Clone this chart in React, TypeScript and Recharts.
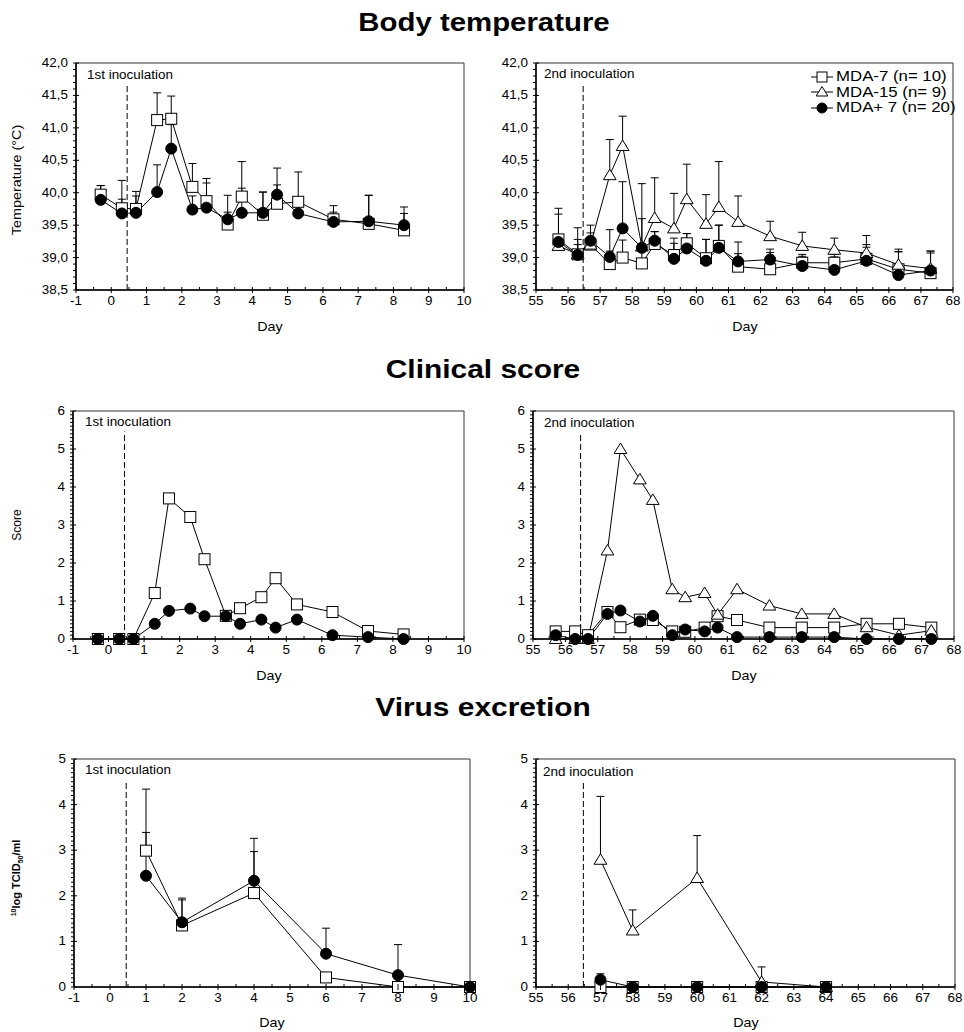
import React from 'react';
import { LineChart, Line, XAxis, YAxis, ErrorBar, ReferenceLine, ReferenceArea, Legend } from 'recharts';

const FONT = "'Liberation Sans', Arial, Helvetica, sans-serif";

// ---------- series names ----------
const NAME_MDA7 = 'MDA-7 (n= 10)';
const NAME_MDA15 = 'MDA-15 (n= 9)';
const NAME_MDAP7 = 'MDA+ 7 (n= 20)';
const LEGEND_ORDER = [NAME_MDA7, NAME_MDA15, NAME_MDAP7];

// ---------- Body temperature, 1st inoculation ----------
const tempDays1 = [-0.3, 0.3, 0.7, 1.3, 1.7, 2.3, 2.7, 3.3, 3.7, 4.3, 4.7, 5.3, 6.3, 7.3, 8.3];
const temp1Mda7 = [39.97, 39.76, 39.75, 41.12, 41.14, 40.09, 39.87, 39.51, 39.94, 39.66, 39.83, 39.86, 39.59, 39.52, 39.42];
const temp1Mda7Sd = [0.14, 0.43, 0.27, 0.42, 0.35, 0.36, 0.35, 0.19, 0.54, 0.35, 0.29, 0.46, 0.21, 0.44, 0.36];
const temp1MdaP7 = [39.89, 39.68, 39.69, 40.01, 40.68, 39.74, 39.77, 39.59, 39.69, 39.69, 39.97, 39.68, 39.55, 39.56, 39.5];
const temp1MdaP7Sd = [0.22, 0.22, 0.26, 0.42, 0.37, 0.21, 0.38, 0.37, 0.38, 0.32, 0.41, 0.22, 0.15, 0.4, 0.18];

// ---------- Body temperature, 2nd inoculation ----------
const tempDays2 = [55.7, 56.3, 56.7, 57.3, 57.7, 58.3, 58.7, 59.3, 59.7, 60.3, 60.7, 61.3, 62.3, 63.3, 64.3, 65.3, 66.3, 67.3];
const temp2Mda7 = [39.28, 39.05, 39.2, 38.9, 39.0, 38.91, 39.21, 39.04, 39.22, 38.99, 39.18, 38.86, 38.82, 38.92, 38.92, 38.98, 38.82, 38.76];
const temp2Mda7Sd = [0.48, 0.15, 0.1, 0.2, 0.27, 0.3, 0.19, 0.18, 0.15, 0.29, 0.32, 0.2, 0.26, 0.13, 0.13, 0.18, 0.27, 0.31];
const temp2Mda15 = [39.18, 39.05, 39.2, 40.27, 40.72, 39.17, 39.61, 39.45, 39.9, 39.52, 39.78, 39.55, 39.33, 39.18, 39.12, 39.07, 38.89, 38.83];
const temp2Mda15Sd = [0.17, 0.41, 0.3, 0.55, 0.46, 0.97, 0.62, 0.54, 0.54, 0.45, 0.7, 0.4, 0.23, 0.21, 0.18, 0.27, 0.24, 0.27];
const temp2MdaP7 = [39.24, 39.04, 39.26, 39.01, 39.45, 39.15, 39.26, 38.98, 39.14, 38.95, 39.15, 38.94, 38.97, 38.87, 38.81, 38.95, 38.73, 38.8];
const temp2MdaP7Sd = [0.43, 0.24, 0.12, 0.42, 0.72, 0.45, 0.14, 0.32, 0.23, 0.33, 0.35, 0.3, 0.16, 0.15, 0.2, 0.25, 0.36, 0.3];

// ---------- Clinical score ----------
const clin1Mda7 = [0, 0, 0, 1.21, 3.7, 3.21, 2.1, 0.61, 0.81, 1.1, 1.6, 0.91, 0.71, 0.21, 0.12];
const clin1MdaP7 = [0, 0, 0, 0.4, 0.74, 0.8, 0.6, 0.6, 0.4, 0.51, 0.3, 0.51, 0.1, 0.05, 0];
const clin2Mda7 = [0.2, 0.2, 0.1, 0.71, 0.31, 0.51, 0.5, 0.2, 0.19, 0.3, 0.6, 0.5, 0.3, 0.3, 0.3, 0.4, 0.4, 0.3];
const clin2Mda15 = [0, 0, 0, 2.33, 5.0, 4.2, 3.66, 1.31, 1.1, 1.21, 0.64, 1.31, 0.88, 0.66, 0.66, 0.31, 0.1, 0.22];
const clin2MdaP7 = [0.1, 0, 0, 0.66, 0.75, 0.46, 0.61, 0.1, 0.25, 0.2, 0.3, 0.05, 0.05, 0.05, 0.05, 0, 0, 0];

// ---------- Virus excretion ----------
const virDays1 = [1, 2, 4, 6, 8, 10];
const vir1Mda7 = [2.99, 1.35, 2.06, 0.21, 0, 0];
const vir1Mda7Sd = [1.35, 0.6, 0.91, 0, 0, 0];
const vir1MdaP7 = [2.44, 1.42, 2.33, 0.73, 0.26, 0];
const vir1MdaP7Sd = [0.95, 0.49, 0.93, 0.56, 0.67, 0];
const virDays2 = [57, 58, 60, 62, 64];
const vir2Mda7 = [0, 0, 0, 0, 0];
const vir2Mda15 = [2.79, 1.24, 2.39, 0.11, 0];
const vir2Mda15Sd = [1.39, 0.45, 0.93, 0.33, 0];
const vir2MdaP7 = [0.16, 0, 0, 0, 0];
const vir2MdaP7Sd = [0.13, 0, 0, 0, 0];

// ---------- axes ----------
const xDomain1: [number, number] = [-1, 10];
const xDomain2: [number, number] = [55, 68];
const tempDomain: [number, number] = [38.5, 42];
const scoreDomain: [number, number] = [0, 6];
const virusDomain: [number, number] = [0, 5];
const inoc1Day = 0.45;
const inoc2Day = 56.47;

type Shape = 'square' | 'triangle' | 'circle';
const SHAPE_OF: Record<string, Shape> = {
  [NAME_MDA7]: 'square',
  [NAME_MDA15]: 'triangle',
  [NAME_MDAP7]: 'circle',
};

function steps(min: number, max: number, step: number): number[] {
  const n = Math.round((max - min) / step);
  const out: number[] = [];
  for (let i = 0; i <= n; i++) out.push(Math.round((min + i * step) * 1000) / 1000);
  return out;
}

function toPoints(days: number[], vals: number[], sd?: number[]) {
  return days.map((x, i) => ({ x, y: vals[i], e: sd ? [0, sd[i]] : undefined }));
}

function MarkerShape({ cx, cy, shape, size }: { cx: number; cy: number; shape: Shape; size: number }) {
  if (cx == null || cy == null || isNaN(cx) || isNaN(cy)) return null;
  const h = size / 2;
  if (shape === 'square') {
    return <rect x={cx - h} y={cy - h} width={size} height={size} fill="#fff" stroke="#000" strokeWidth={1} />;
  }
  if (shape === 'triangle') {
    const w = size * 0.58;
    return (
      <polygon
        points={`${cx},${cy - h - 0.5} ${cx - w},${cy + h - 1} ${cx + w},${cy + h - 1}`}
        fill="#fff"
        stroke="#000"
        strokeWidth={1}
      />
    );
  }
  return <circle cx={cx} cy={cy} r={h} fill="#000" stroke="#000" strokeWidth={1} />;
}

const TICK_SCALE = 1.12;

function makeXTick() {
  return (props: any) => {
    const { x, y, payload } = props;
    const v = payload.value;
    const major = Math.abs(v - Math.round(v)) < 1e-6;
    return (
      <g>
        {major ? (
          <line x1={x} x2={x} y1={y - 3} y2={y + 3} stroke="#000" strokeWidth={1} />
        ) : (
          <line x1={x} x2={x} y1={y} y2={y - 3} stroke="#000" strokeWidth={1} />
        )}
        {major && (
          <text
            transform={`translate(${x},${y + 15}) scale(${TICK_SCALE},1)`}
            textAnchor="middle"
            fontSize={12}
            fontFamily={FONT}
            fill="#000"
          >
            {Math.round(v)}
          </text>
        )}
      </g>
    );
  };
}

function makeYTick(majorStep: number, fmt: (v: number) => string) {
  return (props: any) => {
    const { x, y, payload } = props;
    const v = payload.value;
    const r = v / majorStep;
    const major = Math.abs(r - Math.round(r)) < 1e-6;
    return (
      <g>
        {major ? (
          <line x1={x - 3} x2={x + 3} y1={y} y2={y} stroke="#000" strokeWidth={1} />
        ) : (
          <line x1={x - 3} x2={x} y1={y} y2={y} stroke="#000" strokeWidth={1} />
        )}
        {major && (
          <text
            transform={`translate(${x - 8},${y + 4}) scale(${TICK_SCALE},1)`}
            textAnchor="end"
            fontSize={12}
            fontFamily={FONT}
            fill="#000"
          >
            {fmt(v)}
          </text>
        )}
      </g>
    );
  };
}

const renderLegend = (props: any) => {
  const payload = (props.payload || []).slice();
  payload.sort((a: any, b: any) => LEGEND_ORDER.indexOf(a.value) - LEGEND_ORDER.indexOf(b.value));
  return (
    <div style={{ fontFamily: FONT, fontSize: 14, color: '#000' }}>
      {payload.map((entry: any) => (
        <div
          key={entry.value}
          style={{ display: 'flex', alignItems: 'center', height: 15.5, whiteSpace: 'nowrap' }}
        >
          <svg width={24} height={14} style={{ display: 'block' }}>
            <line x1={1} x2={23} y1={7} y2={7} stroke="#000" strokeWidth={1} />
            <MarkerShape cx={12} cy={7} shape={SHAPE_OF[entry.value] || 'circle'} size={10} />
          </svg>
          <span
            style={{
              display: 'inline-block',
              marginLeft: 2,
              transform: 'scaleX(1.2)',
              transformOrigin: 'left center',
              lineHeight: '15.5px',
            }}
          >
            {entry.value}
          </span>
        </div>
      ))}
    </div>
  );
};

type Rect = { l: number; r: number; t: number; b: number };
type SeriesDef = { name: string; data: any[]; err: boolean };

const ML = 60;
const YW = 40;
const MT = 12;
const MR = 12;
const MB = 50;
const XH = 20;

function Panel(props: {
  rect: Rect;
  xDomain: [number, number];
  yDomain: [number, number];
  yMajor: number;
  yMinor: number;
  fmt: (v: number) => string;
  series: SeriesDef[];
  inocDay: number;
  inocTop: number;
  legend?: boolean;
}) {
  const { rect, xDomain, yDomain, yMajor, yMinor, fmt, series, inocDay, inocTop, legend } = props;
  const w = rect.r - rect.l + ML + MR;
  const h = rect.b - rect.t + MT + MB;
  const left = rect.l - ML;
  const top = rect.t - MT;
  const xTicks = steps(xDomain[0], xDomain[1], 0.5);
  const yTicks = steps(yDomain[0], yDomain[1], yMinor);
  return (
    <div style={{ position: 'absolute', left, top, width: w, height: h }}>
      <LineChart
        width={w}
        height={h}
        margin={{ top: MT, right: MR, left: ML - YW, bottom: MB - XH }}
      >
        <XAxis
          type="number"
          dataKey="x"
          domain={xDomain}
          ticks={xTicks}
          interval={0}
          tickLine={false}
          tickSize={0}
          tickMargin={0}
          height={XH}
          axisLine={{ stroke: '#000', strokeWidth: 1.5 }}
          tick={makeXTick()}
        />
        <YAxis
          type="number"
          domain={yDomain}
          ticks={yTicks}
          interval={0}
          tickLine={false}
          tickSize={0}
          tickMargin={0}
          width={YW}
          axisLine={{ stroke: '#000', strokeWidth: 1.5 }}
          tick={makeYTick(yMajor, fmt)}
        />
        <ReferenceArea
          x1={xDomain[0]}
          x2={xDomain[1]}
          y1={yDomain[0]}
          y2={yDomain[1]}
          fill="none"
          fillOpacity={0}
          stroke="#333"
          strokeWidth={1}
          ifOverflow="visible"
        />
        <ReferenceLine
          segment={[
            { x: inocDay, y: yDomain[0] },
            { x: inocDay, y: inocTop },
          ]}
          stroke="#000"
          strokeWidth={1}
          strokeDasharray="6 3"
          ifOverflow="visible"
        />
        {series.map((s) => (
          <Line
            key={s.name}
            name={s.name}
            data={s.data}
            dataKey="y"
            type="linear"
            stroke="#000"
            strokeWidth={1}
            isAnimationActive={false}
            activeDot={false}
            legendType="line"
            dot={(p: any) => (
              <MarkerShape
                key={`${s.name}-${p.index}`}
                cx={p.cx}
                cy={p.cy}
                shape={SHAPE_OF[s.name]}
                size={11}
              />
            )}
          >
            {s.err && (
              <ErrorBar dataKey="e" direction="y" width={4} stroke="#000" strokeWidth={1} isAnimationActive={false} />
            )}
          </Line>
        ))}
        {legend && (
          <Legend
            layout="vertical"
            align="center"
            verticalAlign="middle"
            content={renderLegend}
            wrapperStyle={{ left: 810 - left, top: 69 - top, width: 150, height: 50 }}
          />
        )}
      </LineChart>
    </div>
  );
}

function Txt(props: {
  x: number;
  baseline: number;
  size: number;
  bold?: boolean;
  center?: boolean;
  scale?: number;
  children: React.ReactNode;
}) {
  const { x, baseline, size, bold, center, scale = 1.12, children } = props;
  return (
    <div
      style={{
        position: 'absolute',
        left: x,
        top: baseline - 0.8465 * size,
        fontSize: size,
        lineHeight: `${size}px`,
        fontWeight: bold ? 'bold' : 'normal',
        fontFamily: FONT,
        whiteSpace: 'nowrap',
        color: '#000',
        transform: center ? `translateX(-50%) scaleX(${scale})` : `scaleX(${scale})`,
        transformOrigin: center ? 'center center' : 'left center',
      }}
    >
      {children}
    </div>
  );
}

function VTxt(props: { cx: number; cy: number; size: number; bold?: boolean; scale?: number; children: React.ReactNode }) {
  const { cx, cy, size, bold, scale = 1, children } = props;
  return (
    <div
      style={{
        position: 'absolute',
        left: cx,
        top: cy,
        fontSize: size,
        lineHeight: `${size + 2}px`,
        fontWeight: bold ? 'bold' : 'normal',
        fontFamily: FONT,
        whiteSpace: 'nowrap',
        color: '#000',
        transform: `translate(-50%, -50%) rotate(-90deg) scaleX(${scale})`,
      }}
    >
      {children}
    </div>
  );
}

const fmtComma = (v: number) => v.toFixed(1).replace('.', ',');
const fmtInt = (v: number) => String(Math.round(v));

const rTL: Rect = { l: 76, r: 464, t: 63, b: 290 };
const rTR: Rect = { l: 536, r: 953, t: 63, b: 290 };
const rCL: Rect = { l: 73, r: 464, t: 411, b: 639 };
const rCR: Rect = { l: 533, r: 954, t: 411, b: 639 };
const rVL: Rect = { l: 74, r: 470, t: 759, b: 987 };
const rVR: Rect = { l: 536, r: 955, t: 759, b: 987 };

export default function App() {
  const mid = (r: Rect) => (r.l + r.r) / 2;
  return (
    <div style={{ position: 'absolute', left: 0, top: 0, width: 964, height: 1032, background: '#fff', overflow: 'hidden' }}>
      {/* Titles */}
      <Txt x={484} baseline={30.7} size={26} bold center scale={1.13}>Body temperature</Txt>
      <Txt x={483} baseline={378} size={26} bold center scale={1.15}>Clinical score</Txt>
      <Txt x={483} baseline={716} size={26} bold center scale={1.15}>Virus excretion</Txt>

      {/* Body temperature */}
      <Panel
        rect={rTL}
        xDomain={xDomain1}
        yDomain={tempDomain}
        yMajor={0.5}
        yMinor={0.1}
        fmt={fmtComma}
        inocDay={inoc1Day}
        inocTop={41.66}
        series={[
          { name: NAME_MDA7, data: toPoints(tempDays1, temp1Mda7, temp1Mda7Sd), err: true },
          { name: NAME_MDAP7, data: toPoints(tempDays1, temp1MdaP7, temp1MdaP7Sd), err: true },
        ]}
      />
      <Panel
        rect={rTR}
        xDomain={xDomain2}
        yDomain={tempDomain}
        yMajor={0.5}
        yMinor={0.1}
        fmt={fmtComma}
        inocDay={inoc2Day}
        inocTop={41.65}
        legend
        series={[
          { name: NAME_MDA7, data: toPoints(tempDays2, temp2Mda7, temp2Mda7Sd), err: true },
          { name: NAME_MDA15, data: toPoints(tempDays2, temp2Mda15, temp2Mda15Sd), err: true },
          { name: NAME_MDAP7, data: toPoints(tempDays2, temp2MdaP7, temp2MdaP7Sd), err: true },
        ]}
      />

      {/* Clinical score */}
      <Panel
        rect={rCL}
        xDomain={xDomain1}
        yDomain={scoreDomain}
        yMajor={1}
        yMinor={0.1}
        fmt={fmtInt}
        inocDay={inoc1Day}
        inocTop={5.46}
        series={[
          { name: NAME_MDA7, data: toPoints(tempDays1, clin1Mda7), err: false },
          { name: NAME_MDAP7, data: toPoints(tempDays1, clin1MdaP7), err: false },
        ]}
      />
      <Panel
        rect={rCR}
        xDomain={xDomain2}
        yDomain={scoreDomain}
        yMajor={1}
        yMinor={0.1}
        fmt={fmtInt}
        inocDay={inoc2Day}
        inocTop={5.42}
        series={[
          { name: NAME_MDA7, data: toPoints(tempDays2, clin2Mda7), err: false },
          { name: NAME_MDA15, data: toPoints(tempDays2, clin2Mda15), err: false },
          { name: NAME_MDAP7, data: toPoints(tempDays2, clin2MdaP7), err: false },
        ]}
      />

      {/* Virus excretion */}
      <Panel
        rect={rVL}
        xDomain={xDomain1}
        yDomain={virusDomain}
        yMajor={1}
        yMinor={0.1}
        fmt={fmtInt}
        inocDay={inoc1Day}
        inocTop={4.54}
        series={[
          { name: NAME_MDA7, data: toPoints(virDays1, vir1Mda7, vir1Mda7Sd), err: true },
          { name: NAME_MDAP7, data: toPoints(virDays1, vir1MdaP7, vir1MdaP7Sd), err: true },
        ]}
      />
      <Panel
        rect={rVR}
        xDomain={xDomain2}
        yDomain={virusDomain}
        yMajor={1}
        yMinor={0.1}
        fmt={fmtInt}
        inocDay={inoc2Day}
        inocTop={4.5}
        series={[
          { name: NAME_MDA7, data: toPoints(virDays2, vir2Mda7), err: false },
          { name: NAME_MDA15, data: toPoints(virDays2, vir2Mda15, vir2Mda15Sd), err: true },
          { name: NAME_MDAP7, data: toPoints(virDays2, vir2MdaP7, vir2MdaP7Sd), err: true },
        ]}
      />

      {/* Inoculation labels */}
      <Txt x={87} baseline={79} size={12}>1st inoculation</Txt>
      <Txt x={544} baseline={78.5} size={12}>2nd inoculation</Txt>
      <Txt x={85} baseline={426} size={12}>1st inoculation</Txt>
      <Txt x={544} baseline={427} size={12}>2nd inoculation</Txt>
      <Txt x={85} baseline={774} size={12}>1st inoculation</Txt>
      <Txt x={543} baseline={776} size={12}>2nd inoculation</Txt>

      {/* X axis titles */}
      <Txt x={mid(rTL)} baseline={rTL.b + 41} size={13} center scale={1.1}>Day</Txt>
      <Txt x={mid(rTR)} baseline={rTR.b + 41} size={13} center scale={1.1}>Day</Txt>
      <Txt x={mid(rCL)} baseline={rCL.b + 41} size={13} center scale={1.1}>Day</Txt>
      <Txt x={mid(rCR)} baseline={rCR.b + 41} size={13} center scale={1.1}>Day</Txt>
      <Txt x={mid(rVL)} baseline={rVL.b + 40.5} size={13} center scale={1.1}>Day</Txt>
      <Txt x={mid(rVR)} baseline={rVR.b + 40.5} size={13} center scale={1.1}>Day</Txt>

      {/* Y axis titles */}
      <VTxt cx={17} cy={180} size={12} scale={1.2}>Temperature (°C)</VTxt>
      <VTxt cx={16.5} cy={525} size={12}>Score</VTxt>
      <VTxt cx={16.5} cy={878} size={11} bold>
        <sup style={{ fontSize: 7 }}>10</sup>log TCID<sub style={{ fontSize: 7 }}>50</sub>/ml
      </VTxt>
    </div>
  );
}
